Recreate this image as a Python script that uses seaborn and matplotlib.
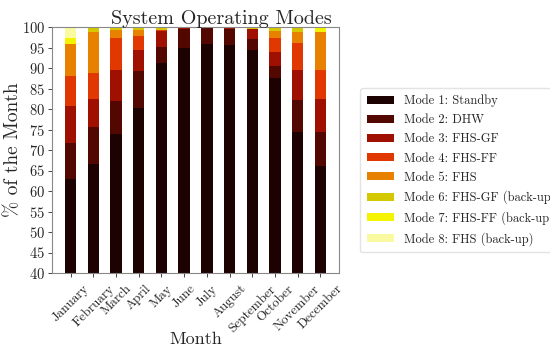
import matplotlib
matplotlib.use("Agg")
import matplotlib.pyplot as plt
import seaborn as sns
import numpy as np

months = ["January", "February", "March", "April", "May", "June", "July",
          "August", "September", "October", "November", "December"]

mode_labels = ["Mode 1: Standby", "Mode 2: DHW", "Mode 3: FHS-GF", "Mode 4: FHS-FF",
               "Mode 5: FHS", "Mode 6: FHS-GF (back-up)", "Mode 7: FHS-FF (back-up)",
               "Mode 8: FHS (back-up)"]

mode1 = [63.0, 66.5, 74.0, 80.3, 91.2, 95.0, 95.8, 95.6, 94.5, 87.5, 74.3, 66.0]
mode2 = [8.8, 9.0, 8.0, 9.0, 4.0, 4.5, 4.0, 3.9, 2.5, 3.0, 8.0, 8.5]
mode3 = [8.9, 7.0, 7.5, 5.0, 3.8, 0.5, 0.2, 0.5, 2.5, 3.5, 7.3, 8.0]
mode4 = [7.3, 6.3, 7.8, 3.5, 0.3, 0.0, 0.0, 0.0, 0.0, 3.3, 6.4, 7.0]
mode5 = [7.8, 10.1, 2.0, 1.5, 0.0, 0.0, 0.0, 0.0, 0.0, 1.8, 2.9, 9.3]
mode6 = [0.0, 1.1, 0.7, 0.7, 0.7, 0.0, 0.0, 0.0, 0.5, 0.9, 1.1, 0.0]
mode7 = [1.5, 0.0, 0.0, 0.0, 0.0, 0.0, 0.0, 0.0, 0.0, 0.0, 0.0, 1.2]
mode8 = [2.7, 0.0, 0.0, 0.0, 0.0, 0.0, 0.0, 0.0, 0.0, 0.0, 0.0, 0.0]

mode_colors = ["#1c0200", "#520800", "#a01000", "#e03800",
               "#e88000", "#d4c800", "#f4f400", "#fafaa0"]

sns.set_theme(style="white")
plt.rcParams["font.family"] = ["cmr10", "DejaVu Serif"]
plt.rcParams["axes.formatter.use_mathtext"] = True
plt.rcParams["mathtext.fontset"] = "cm"

fig = plt.figure(figsize=(5.5, 3.48), dpi=100)
ax = fig.add_axes([52/550, 1-273/348, (339-52)/550, (273-27)/348])

series = [mode1, mode2, mode3, mode4, mode5, mode6, mode7, mode8]
bottom = np.zeros(len(months))
for vals, lab, col in zip(series, mode_labels, mode_colors):
    sns.barplot(x=months, y=vals, bottom=bottom, color=col, width=0.5,
                label=lab, errorbar=None, linewidth=0, ax=ax, saturation=1)
    bottom = bottom + np.array(vals)

ax.set_ylim(40, 100)
ax.set_xlim(-0.825, 11.825)
ax.set_yticks(np.arange(40, 101, 5))
ax.tick_params(axis="y", labelsize=10.5, length=3, width=0.6, pad=2, left=True)
ax.tick_params(axis="x", labelsize=9.5, length=3, width=0.6, pad=4, bottom=True)
for t in ax.get_xticklabels():
    t.set_rotation(45)
    t.set_ha("center")
for s in ax.spines.values():
    s.set_color("#888888")
    s.set_linewidth(0.8)

ax.set_title("System Operating Modes", fontsize=14.5, pad=2, x=0.59)
ax.set_ylabel("% of the Month", fontsize=14)
ax.yaxis.set_label_coords(-0.105, 0.5)
ax.set_xlabel("Month", fontsize=13)
ax.xaxis.set_label_coords(0.5, -0.27)
ax.xaxis.label.set_va("center")

if ax.legend_ is not None:
    ax.legend_.remove()
handles, labels = ax.get_legend_handles_labels()
fig.legend(handles, labels, loc="upper left", bbox_to_anchor=(354/550, 1-82/348),
           fontsize=9, frameon=True, edgecolor="#dddddd", fancybox=True,
           borderpad=0.5, labelspacing=0.56, handlelength=2.2, handleheight=0.6)

fig.savefig("out.png", dpi=100)
